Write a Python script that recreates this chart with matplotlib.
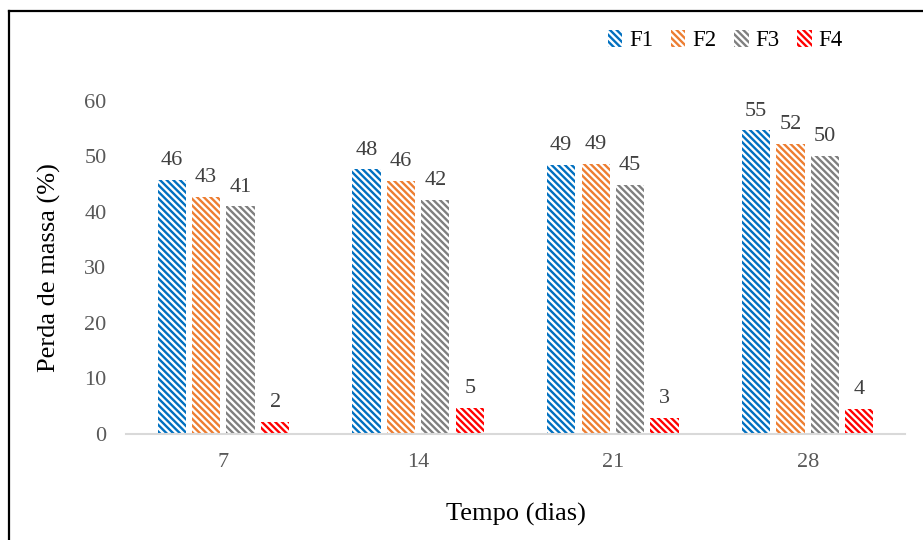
import matplotlib
matplotlib.use("Agg")
import matplotlib.pyplot as plt
import numpy as np
from matplotlib.lines import Line2D

plt.rcParams['font.family'] = ['Liberation Serif', 'DejaVu Serif']
plt.rcParams['hatch.linewidth'] = 1.7

categories = ['7', '14', '21', '28']
series_names = ['F1', 'F2', 'F3', 'F4']
F1 = [45.8, 47.7, 48.5, 54.7]
F2 = [42.7, 45.6, 48.7, 52.3]
F3 = [41.0, 42.2, 44.9, 50.1]
F4 = [2.2, 4.7, 2.9, 4.5]
labels = [[46, 48, 49, 55], [43, 46, 49, 52], [41, 42, 45, 50], [2, 5, 3, 4]]
colors = ['#0070C0', '#ED7D31', '#7F7F7F', '#FF0000']

fig = plt.figure(figsize=(9.23, 5.40), dpi=100)
ax = fig.add_axes([0.1365, 0.1963, 0.9805 - 0.1365, 0.813 - 0.1963])

x = np.arange(len(categories))
step = 0.177
width = 0.145
for i, (name, vals) in enumerate(zip(series_names, [F1, F2, F3, F4])):
    pos = x + (i - 1.5) * step
    bars = ax.bar(pos, vals, width, facecolor='white', edgecolor=colors[i],
                  linewidth=0, hatch='\\\\\\\\\\', label=name)
    for b, lab in zip(bars, labels[i]):
        ax.annotate(str(lab), (b.get_x() + b.get_width() / 2, b.get_height()),
                    xytext=(0, 7), textcoords='offset points', ha='center',
                    va='bottom', fontsize=16, color='#404040')

ax.set_xlim(-0.5, 3.5)
ax.set_ylim(0, 60)
ax.set_yticks(range(0, 61, 10))
ax.set_xticks(x)
ax.set_xticklabels(categories)
ax.tick_params(axis='both', length=0, labelsize=16, labelcolor='#595959')
ax.tick_params(axis='y', pad=14)
ax.tick_params(axis='x', pad=14)
for s in ['top', 'right', 'left']:
    ax.spines[s].set_visible(False)
ax.spines['bottom'].set_color('#D9D9D9')
ax.spines['bottom'].set_linewidth(1.5)

ax.set_ylabel('Perda de massa (%)', fontsize=19, color='black', labelpad=17)
ax.set_xlabel('Tempo (dias)', fontsize=19, color='black', labelpad=22)

leg = fig.legend(loc='center left', bbox_to_anchor=(0.659, 0.925), ncol=4,
                 frameon=False, fontsize=16.5, handlelength=0.62,
                 handleheight=0.75, handletextpad=0.3, columnspacing=0.78,
                 borderpad=0, borderaxespad=0)

# outer border (left and top visible)
fig.add_artist(Line2D([8.5 / 923, 8.5 / 923], [0, 1 - 10.5 / 540],
                      transform=fig.transFigure, color='black', linewidth=1.6))
fig.add_artist(Line2D([8.5 / 923, 1], [1 - 10.5 / 540, 1 - 10.5 / 540],
                      transform=fig.transFigure, color='black', linewidth=1.6))

fig.savefig('out.png', dpi=100)
